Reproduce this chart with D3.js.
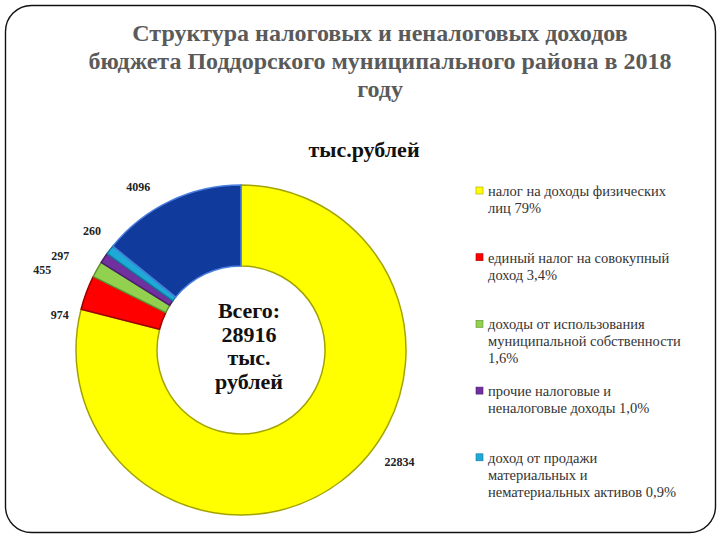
<!DOCTYPE html>
<html>
<head>
<meta charset="utf-8">
<script src="https://cdn.jsdelivr.net/npm/d3@7"></script>
<style>
  body { margin: 0; background: #fff; }
  svg { display: block; }
</style>
</head>
<body>
<svg id="chart"></svg>
<script>
// data
var categories = [
    "налог на доходы физических лиц",
    "единый налог на совокупный доход",
    "доходы от использования муниципальной собственности",
    "прочие налоговые и неналоговые доходы",
    "доход от продажи материальных и нематериальных активов",
    "прочие"
];
var values = [22834, 974, 455, 297, 260, 4096];
var legendLines = [
    ["налог на доходы физических", "лиц 79%"],
    ["единый налог на совокупный", "доход 3,4%"],
    ["доходы от использования", "муниципальной собственности", "1,6%"],
    ["прочие налоговые и", "неналоговые доходы 1,0%"],
    ["доход от продажи", "материальных и", "нематериальных активов 0,9%"]
];
var titleLines = [
    "Структура налоговых и неналоговых доходов",
    "бюджета Поддорского муниципального района в 2018",
    "году"
];
var unitLabel = "тыс.рублей";
var centerLines = ["Всего:", "28916", "тыс.", "рублей"];

// layout
var svgWidth = 720;
var svgHeight = 540;
var colors = ["#ffff00", "#ff0000", "#92d050", "#7030a0", "#1fa9d6", "#103b9c"];
var strokes = ["#a3a300", "#a00000", "#5e8f2e", "#4a1f6b", "#137a9c", "#4a7fe0"];
// small shifts so the crowded labels sit where the original has them
var labelNudge = [[42, -38], [-3, 31], [-33, 13], [-23, 12], [2, -4], [-21, 8]];

var svg = d3.select("svg#chart")
    .attr("width", svgWidth)
    .attr("height", svgHeight);

// frame
svg.append("rect")
    .attr("x", 5.5).attr("y", 5.5)
    .attr("width", 710).attr("height", 527)
    .attr("rx", 26).attr("ry", 26)
    .attr("fill", "none")
    .attr("stroke", "#111")
    .attr("stroke-width", 1.4);

// title
svg.append("g")
    .selectAll("text")
    .data(titleLines)
    .enter()
    .append("text")
    .text(function (d) { return d; })
    .attr("x", 380)
    .attr("y", function (d, i) { return 41 + i * 28; })
    .attr("text-anchor", "middle")
    .attr("font-family", "Liberation Serif")
    .attr("font-weight", "bold")
    .attr("font-size", 24)
    .attr("fill", "#5a5a5a");

svg.append("text")
    .text(unitLabel)
    .attr("x", 364)
    .attr("y", 157)
    .attr("text-anchor", "middle")
    .attr("font-family", "Liberation Serif")
    .attr("font-weight", "bold")
    .attr("font-size", 22)
    .attr("fill", "#111");

// doughnut
var cx = 241, cy = 350;
var outerR = 165, innerR = 84;

var pie = d3.pie().sort(null).value(function (d) { return d; });
var slices = pie(values);

var arc = d3.arc().innerRadius(innerR).outerRadius(outerR);
var labelArc = d3.arc().innerRadius(190).outerRadius(190);

var g = svg.append("g")
    .attr("transform", "translate(" + cx + "," + cy + ")");

g.selectAll("path.slice")
    .data(slices)
    .enter()
    .append("path")
    .attr("class", "slice")
    .attr("d", arc)
    .attr("fill", function (d, i) { return colors[i]; })
    .attr("stroke", function (d, i) { return strokes[i]; })
    .attr("stroke-width", 1.5)
    .attr("stroke-linejoin", "round");

g.selectAll("text.value")
    .data(slices)
    .enter()
    .append("text")
    .attr("class", "value")
    .text(function (d) { return d.data; })
    .attr("transform", function (d, i) {
        var c = labelArc.centroid(d);
        return "translate(" + (c[0] + labelNudge[i][0]) + "," + (c[1] + labelNudge[i][1]) + ")";
    })
    .attr("dy", "0.35em")
    .attr("text-anchor", "middle")
    .attr("font-family", "Liberation Serif")
    .attr("font-weight", "bold")
    .attr("font-size", 12)
    .attr("fill", "#222");

// total in the hole
svg.append("g")
    .selectAll("text")
    .data(centerLines)
    .enter()
    .append("text")
    .text(function (d) { return d; })
    .attr("x", 249)
    .attr("y", function (d, i) { return 318 + i * 23.5; })
    .attr("text-anchor", "middle")
    .attr("font-family", "Liberation Serif")
    .attr("font-weight", "bold")
    .attr("font-size", 22)
    .attr("fill", "#111");

// legend
var legend = svg.append("g").attr("class", "legend");
var item = legend.selectAll("g")
    .data(legendLines)
    .enter()
    .append("g")
    .attr("transform", function (d, i) { return "translate(476," + (192 + i * 66.7) + ")"; });

item.append("rect")
    .attr("x", 0).attr("y", -5)
    .attr("width", 7).attr("height", 7)
    .attr("fill", function (d, i) { return colors[i]; })
    .attr("stroke", function (d, i) { return strokes[i]; })
    .attr("stroke-width", 0.6);

item.selectAll("text")
    .data(function (d) { return d; })
    .enter()
    .append("text")
    .text(function (d) { return d; })
    .attr("x", 12)
    .attr("y", function (d, i) { return 4 + i * 17; })
    .attr("font-family", "Liberation Serif")
    .attr("font-size", 14.5)
    .attr("fill", "#333");
</script>
</body>
</html>
